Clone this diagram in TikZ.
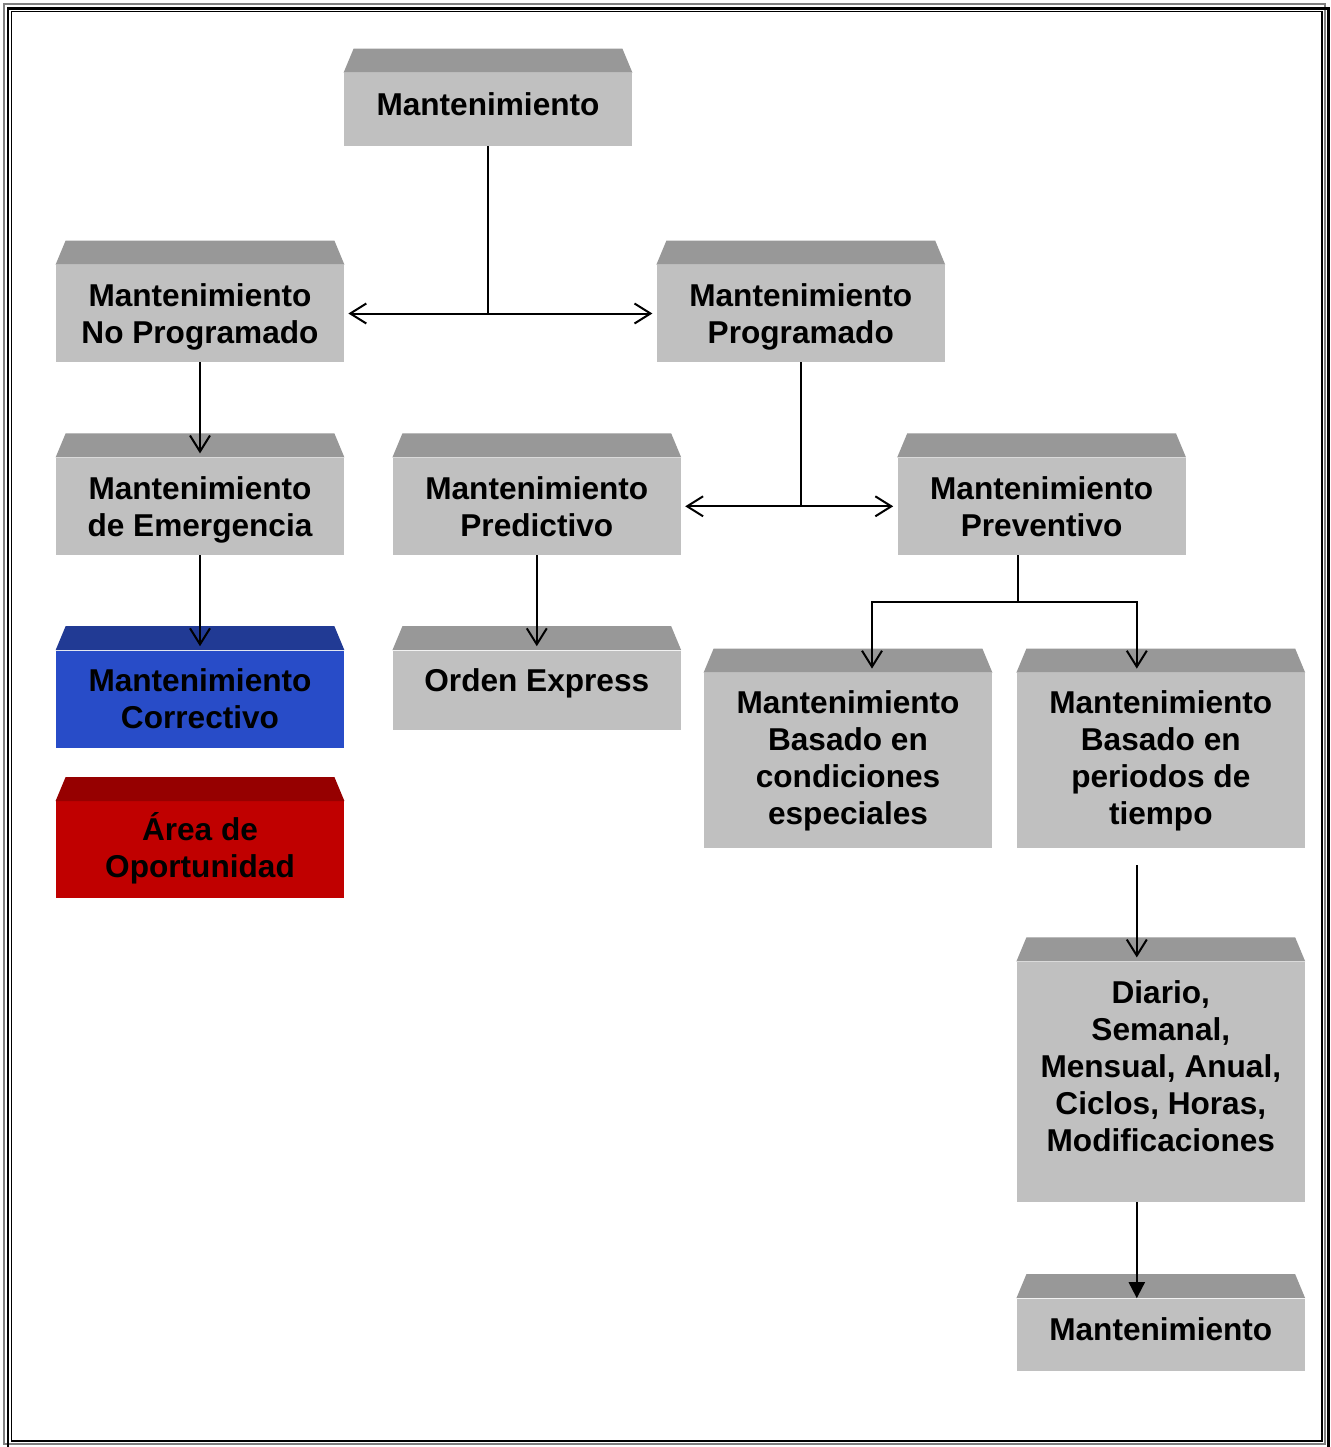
\documentclass[tikz,border=0pt]{standalone}
\usepackage{fontspec}
\setmainfont{Liberation Sans}
\usepackage{tikz}
\usetikzlibrary{arrows.meta, positioning}
\usepackage{xcolor}

\definecolor{facegray}{RGB}{192,192,192}
\definecolor{bevelgray}{RGB}{152,152,152}
\definecolor{faceblue}{RGB}{40,76,200}
\definecolor{bevelblue}{RGB}{33,58,148}
\definecolor{facered}{RGB}{192,0,0}
\definecolor{bevelred}{RGB}{150,0,0}

\newcommand{\bevel}[2]{\fill[#2] (#1.north west) -- ([xshift=5pt,yshift=12pt]#1.north west) -- ([xshift=-5pt,yshift=12pt]#1.north east) -- (#1.north east) -- cycle;}

\begin{document}
\begin{tikzpicture}[x=0.5pt, y=-0.5pt,
  box/.style={rectangle, fill=facegray, minimum width=144pt, minimum height=48.5pt, inner sep=0pt, align=center, font=\bfseries\fontsize{15.8}{18.5}\selectfont},
  link/.style={line width=1pt},
  arr/.style={link, -{Straight Barb[length=8pt,width=10pt]}, shorten >=2pt},
  biarr/.style={link, {Straight Barb[length=8pt,width=10pt]}-{Straight Barb[length=8pt,width=10pt]}, shorten >=2pt, shorten <=2pt},
  fillarr/.style={link, -{Triangle[length=8pt,width=8pt]}}]

  \useasboundingbox (0,0) rectangle (1330,1447);
  \fill[white] (0,0) rectangle (1330,1447);

  \draw[gray, line width=1pt] (4,4) rectangle (1325,1444);
  \draw[black, line width=1.2pt] (8,8.5) rectangle (1328.5,1470);
  \draw[black, line width=0.6pt] (11.5,11.5) rectangle (1322,1441);

  \node[box, minimum height=36.5pt, text depth=5.5pt] (top) at (488,109.5) {Mantenimiento};

  \node[box, text depth=0pt] (noprog) at (200,313.5) {Mantenimiento\\No Programado};

  \node[box, text depth=0pt, right=156pt of noprog] (prog) {Mantenimiento\\Programado};

  \node[box, text depth=0pt, below=47.5pt of noprog] (emerg) {Mantenimiento\\de Emergencia};

  \node[box, fill=faceblue, below=47.5pt of emerg] (corr) {Mantenimiento\\Correctivo};

  \node[box, fill=facered, text depth=5.3pt, below=26.5pt of corr] (area) {Área de\\Oportunidad};

  \node[box, right=24pt of emerg] (pred) {Mantenimiento\\Predictivo};

  \node[box, right=108pt of pred] (prev) {Mantenimiento\\Preventivo};

  \node[box, minimum height=39.5pt, text depth=10.5pt, below=47.5pt of pred] (orden) {Orden Express};

  \node[box, minimum height=87.5pt] (cond) at (848,760.5) {Mantenimiento\\Basado en\\condiciones\\especiales};

  \node[box, minimum height=87.5pt, right=12pt of cond] (peri) {Mantenimiento\\Basado en\\periodos de\\tiempo};

  \node[box, minimum height=120pt, text depth=16pt, below=56.5pt of peri] (diario) {Diario,\\Semanal,\\Mensual, Anual,\\Ciclos, Horas,\\Modificaciones};

  \node[box, minimum height=36pt, text depth=5.5pt, below=48pt of diario] (bottom) {Mantenimiento};

  \bevel{top}{bevelgray}
  \bevel{noprog}{bevelgray}
  \bevel{prog}{bevelgray}
  \bevel{emerg}{bevelgray}
  \bevel{pred}{bevelgray}
  \bevel{prev}{bevelgray}
  \bevel{corr}{bevelblue}
  \bevel{area}{bevelred}
  \bevel{orden}{bevelgray}
  \bevel{cond}{bevelgray}
  \bevel{peri}{bevelgray}
  \bevel{diario}{bevelgray}
  \bevel{bottom}{bevelgray}

  \coordinate (prevout) at ([xshift=-12pt]prev.south);
  \coordinate (fork) at ([yshift=-23.5pt]prevout);

  \draw[link] (top) -- (top |- prog);
  \draw[biarr] (noprog) -- (prog);
  \draw[link] (prog) -- (prog |- pred);
  \draw[biarr] (pred) -- (prev);
  \draw[arr] (noprog) -- (emerg);
  \draw[arr] (emerg) -- (corr);
  \draw[arr] (pred) -- (orden);
  \draw[link] (prevout) -- (fork);
  \draw[arr] (fork) -| ([xshift=12pt]cond.north);
  \draw[arr] (fork) -| ([xshift=-12pt]peri.north);
  \draw[arr, shorten <=8.5pt] ([xshift=-12pt]peri.south) -- ([xshift=-12pt]diario.north);
  \draw[fillarr] ([xshift=-12pt]diario.south) -- ([xshift=-12pt]bottom.north);
\end{tikzpicture}
\end{document}
